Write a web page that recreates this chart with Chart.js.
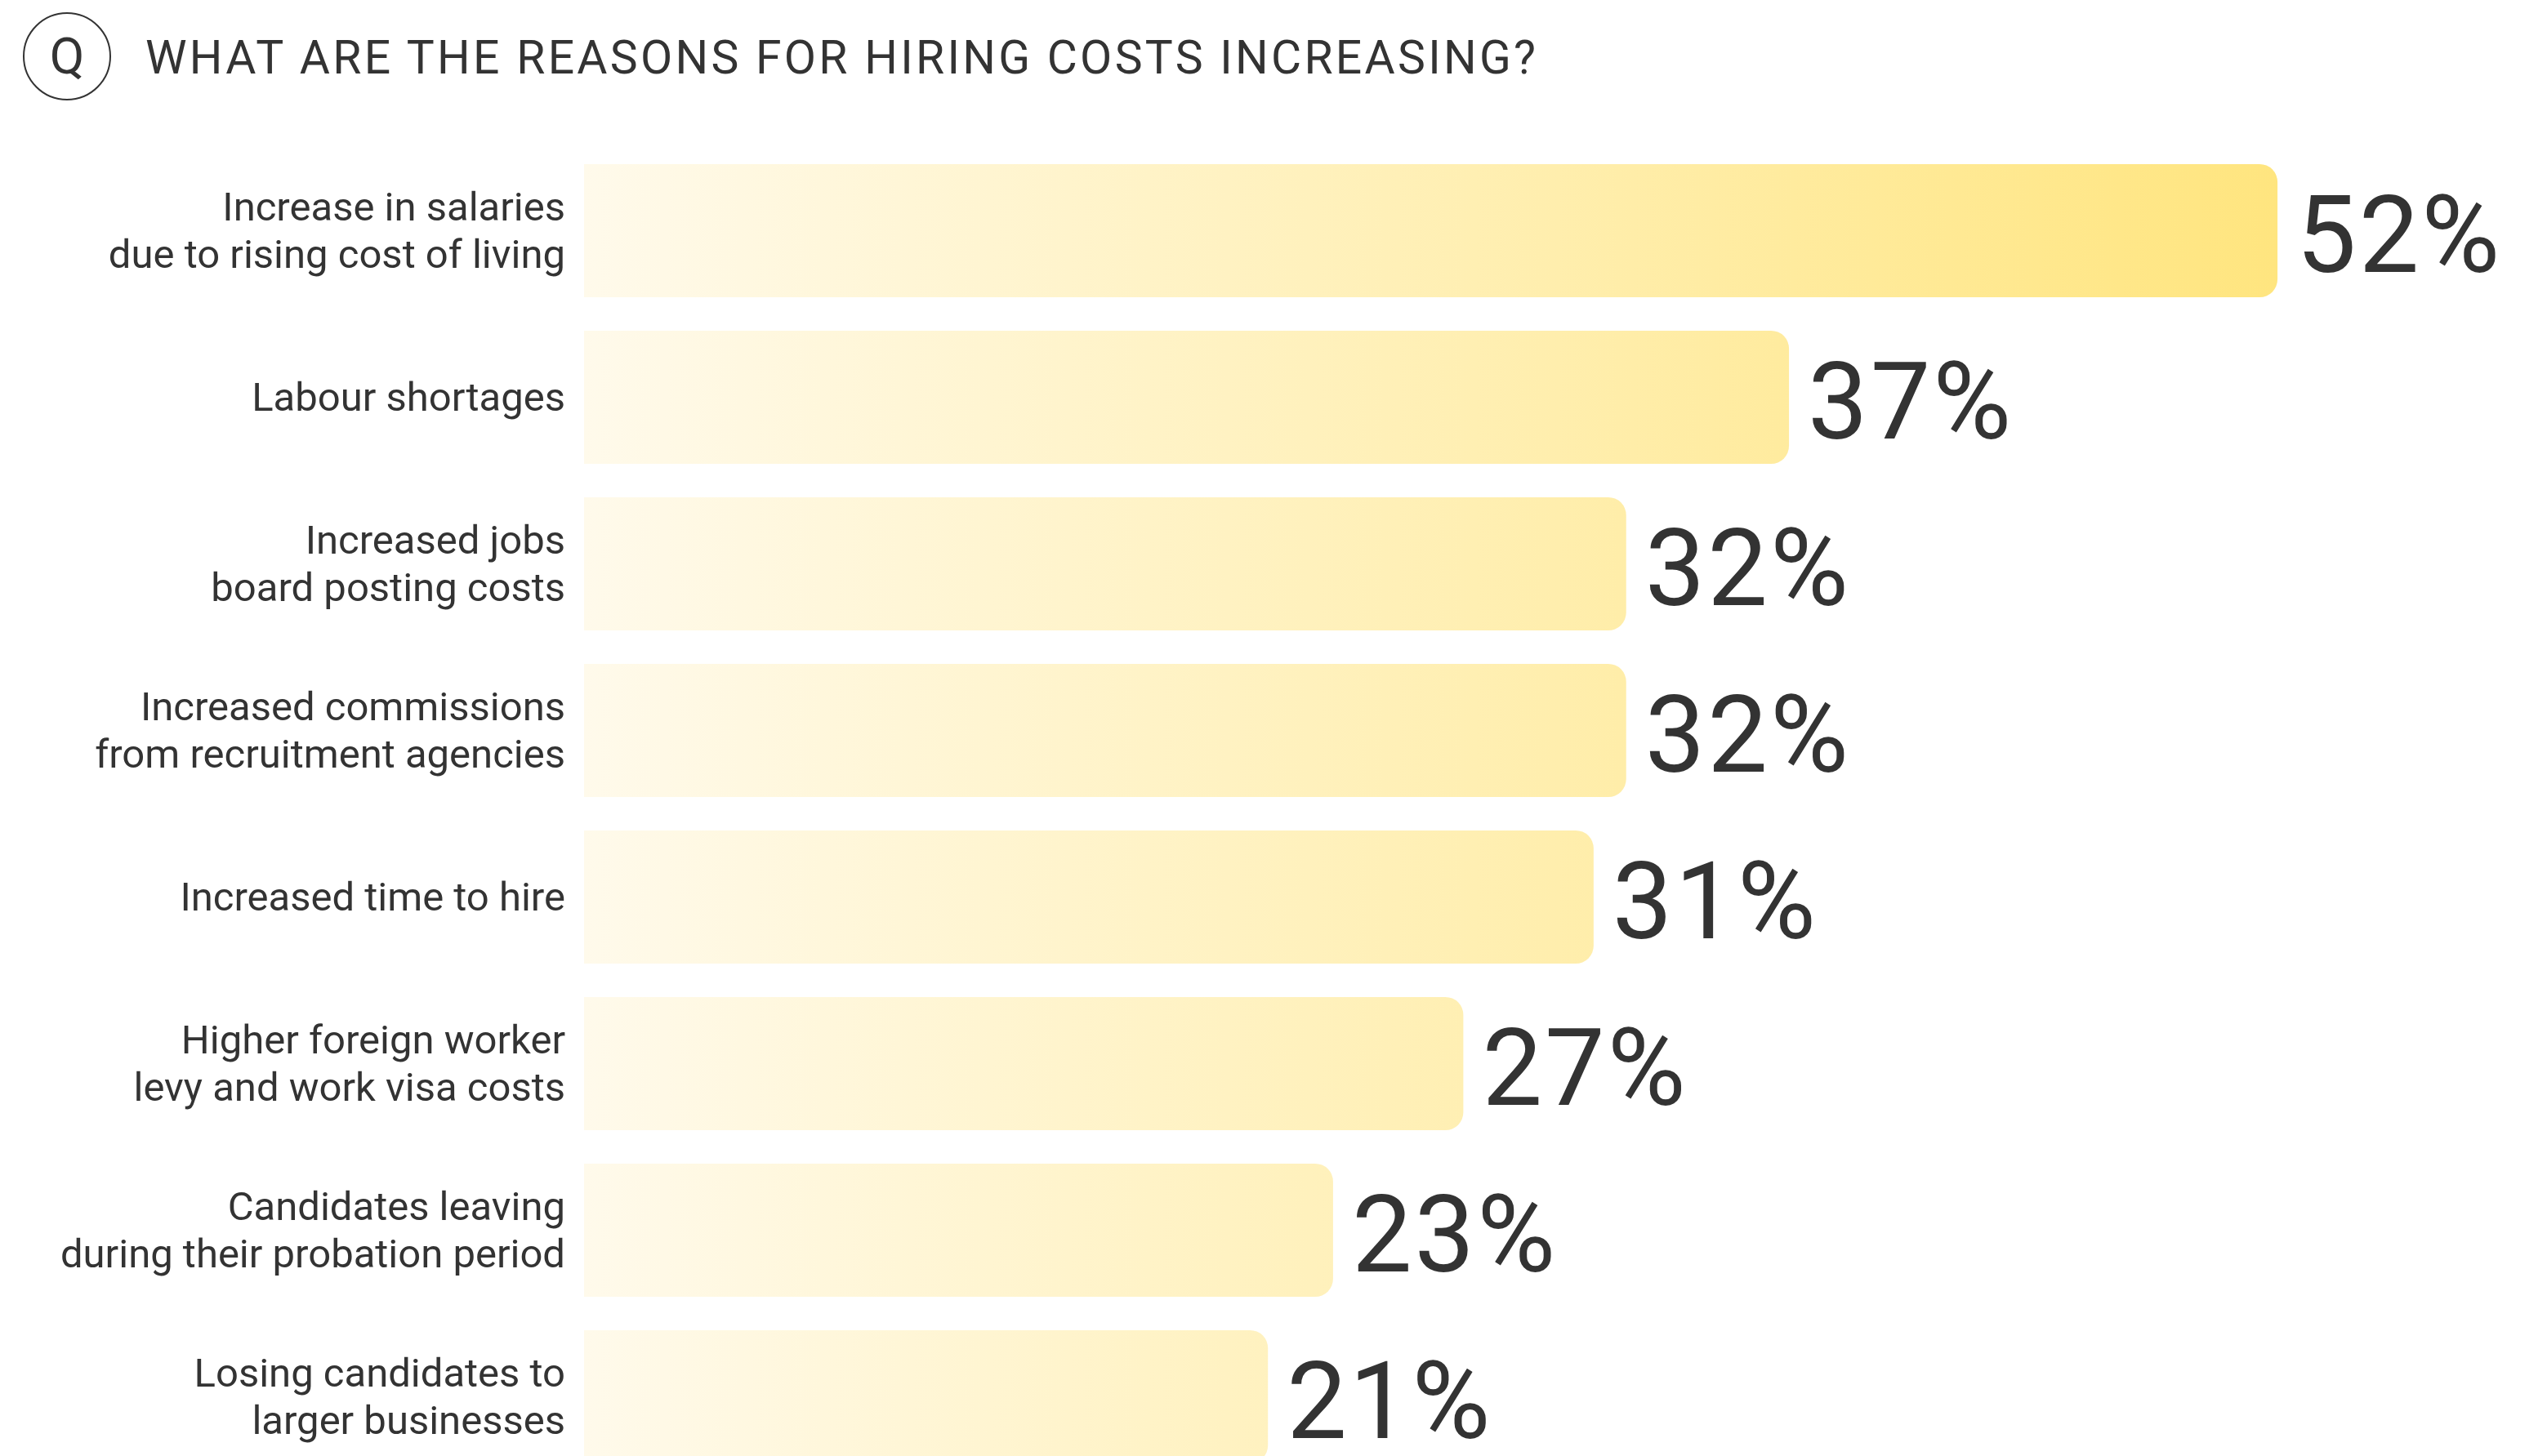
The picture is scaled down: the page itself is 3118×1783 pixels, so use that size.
<!DOCTYPE html>
<html>
<head>
<meta charset="utf-8">
<title>Hiring costs</title>
<script src="https://cdn.jsdelivr.net/npm/chart.js@4.4.1/dist/chart.umd.min.js"></script>
<style>
  html, body { margin: 0; padding: 0; background: #fff; overflow: hidden; }
  body { width: 3118px; height: 1783px; position: relative; font-family: Roboto, sans-serif; color: #333; }
  .q-badge {
    position: absolute; left: 28px; top: 15px; width: 104px; height: 104px;
    border: 2px solid #333; border-radius: 50%;
    font-size: 62px; line-height: 104px; text-align: center; color: #333;
  }
  h1 {
    position: absolute; left: 178px; top: 36px; margin: 0;
    font-size: 57px; font-weight: 400; line-height: 70px; letter-spacing: 3.3px; color: #333;
  }
  #reasonsChart { position: absolute; left: 0; top: 0; }
</style>
</head>
<body>
<div class="q-badge">Q</div>
<h1>WHAT ARE THE REASONS FOR HIRING COSTS INCREASING?</h1>
<canvas id="reasonsChart" width="3118" height="1830"></canvas>

<script>
// reasons (multi-line labels) and share of respondents, in %
const reasons = [
  ['Increase in salaries', 'due to rising cost of living'],
  'Labour shortages',
  ['Increased jobs', 'board posting costs'],
  ['Increased commissions', 'from recruitment agencies'],
  'Increased time to hire',
  ['Higher foreign worker', 'levy and work visa costs'],
  ['Candidates leaving', 'during their probation period'],
  ['Losing candidates to', 'larger businesses']
];
const shares = [52, 37, 32, 32, 31, 27, 23, 21];
const axisMax = 60;

// yellow fade from the left edge to the end of the longest bar
function barGradient(context) {
  const chart = context.chart;
  const area = chart.chartArea;
  if (!area) return '#fff3c0';
  const x = chart.scales.x;
  const g = chart.ctx.createLinearGradient(x.getPixelForValue(0), 0, x.getPixelForValue(Math.max(...shares)), 0);
  g.addColorStop(0, '#fffaeb');
  g.addColorStop(1, '#ffe57f');
  return g;
}

// big "NN%" figure to the right of each bar
const valueLabels = {
  id: 'valueLabels',
  afterDatasetsDraw(chart) {
    const ctx = chart.ctx;
    const meta = chart.getDatasetMeta(0);
    ctx.save();
    ctx.font = '400 131px Roboto';
    ctx.letterSpacing = '3px';
    ctx.fillStyle = '#333';
    ctx.textAlign = 'left';
    ctx.textBaseline = 'alphabetic';
    meta.data.forEach((bar, i) => {
      ctx.fillText(shares[i] + '%', bar.x + 23, bar.y + 50);
    });
    ctx.restore();
  }
};

const ctx = document.getElementById('reasonsChart').getContext('2d');
const reasonsChart = new Chart(ctx, {
  type: 'bar',
  data: {
    labels: reasons,
    datasets: [{
      data: shares,
      backgroundColor: barGradient,
      borderWidth: 0,
      borderRadius: 22,
      borderSkipped: 'start',
      categoryPercentage: 1,
      barPercentage: 0.8
    }]
  },
  options: {
    indexAxis: 'y',
    responsive: false,
    animation: false,
    layout: { padding: { top: 180.5, bottom: 17.5, left: 0, right: 11 } },
    plugins: {
      legend: { display: false },
      tooltip: { enabled: false }
    },
    scales: {
      x: {
        display: false,
        min: 0,
        max: axisMax
      },
      y: {
        grid: { display: false, drawTicks: false },
        border: { display: false },
        afterFit(scale) {
          // fixed label column; labels sit inside their bands, so no extra vertical room
          scale.width = 715;
          scale.paddingTop = 0;
          scale.paddingBottom = 0;
        },
        ticks: {
          padding: 23,
          labelOffset: 4,
          color: '#333',
          font: { family: 'Roboto', size: 49, lineHeight: 1.18 }
        }
      }
    }
  },
  plugins: [valueLabels]
});
</script>
</body>
</html>
